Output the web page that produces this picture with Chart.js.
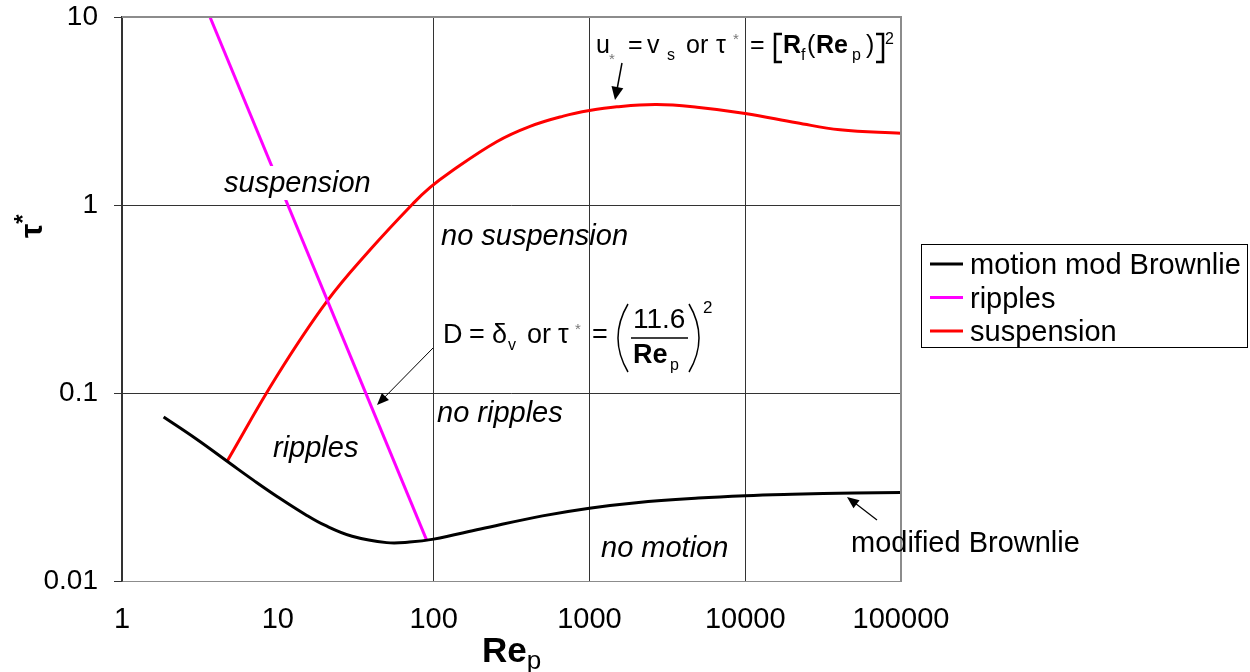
<!DOCTYPE html>
<html>
<head>
<meta charset="utf-8">
<script src="https://cdn.jsdelivr.net/npm/chart.js@4.4.0/dist/chart.umd.min.js"></script>
<style>
html, body { margin: 0; padding: 0; background: #fff; }
#wrap { width: 1250px; height: 672px; }
</style>
</head>
<body>
<div id="wrap"><canvas id="chart" width="1250" height="672"></canvas></div>
<script>
// threshold of motion (modified Brownlie)
var brownlieRe = [1.85, 3, 5, 7, 10, 15, 20, 30, 50, 70, 100, 200, 500, 1000, 2000, 5000, 10000, 20000, 50000, 100000];
var brownlieTau = [0.0745, 0.0569, 0.0419, 0.0343, 0.0280, 0.0226, 0.0198, 0.0173, 0.0160, 0.0161, 0.0167, 0.0189, 0.0222, 0.0244, 0.0261, 0.0276, 0.0284, 0.0289, 0.0294, 0.0296];
// ripples limit, D = viscous sublayer
var ripplesRe = [3.67, 90.5];
var ripplesTau = [10, 0.0164];
// onset of suspension, u* = vs
var suspensionRe = [4.7, 9.8, 20.6, 39, 74, 95, 127, 254, 416, 680, 1000, 1500, 2700, 4900, 10000, 21400, 40600, 100000];
var suspensionTau = [0.043, 0.122, 0.306, 0.576, 1.02, 1.24, 1.49, 2.17, 2.62, 2.97, 3.18, 3.33, 3.42, 3.31, 3.07, 2.74, 2.51, 2.41];

var xTicks = [1, 10, 100, 1000, 10000, 100000];
var yTicks = [0.01, 0.1, 1, 10];
var seriesNames = ["motion mod Brownlie", "ripples", "suspension"];
var seriesColors = ["#000000", "#ff00ff", "#ff0000"];

var FONT = "'Liberation Sans', Arial, sans-serif";
Chart.defaults.font.family = FONT;

function pts(xs, ys) {
    return xs.map(function (x, i) { return { x: x, y: ys[i] }; });
}

function txt(ctx, s, x, y, size, style, color, align) {
    ctx.font = (style || '') + ' ' + size + 'px ' + FONT;
    ctx.fillStyle = color || '#000';
    ctx.textAlign = align || 'left';
    ctx.textBaseline = 'alphabetic';
    ctx.fillText(s, x, y);
    return ctx.measureText(s).width;
}

function arrow(ctx, x1, y1, x2, y2, len, half, width) {
    var a = Math.atan2(y2 - y1, x2 - x1);
    ctx.strokeStyle = '#000';
    ctx.lineWidth = width;
    ctx.beginPath();
    ctx.moveTo(x1, y1);
    ctx.lineTo(x2 - Math.cos(a) * len * 0.8, y2 - Math.sin(a) * len * 0.8);
    ctx.stroke();
    ctx.fillStyle = '#000';
    ctx.beginPath();
    ctx.moveTo(x2, y2);
    ctx.lineTo(x2 - Math.cos(a) * len - Math.sin(a) * half, y2 - Math.sin(a) * len + Math.cos(a) * half);
    ctx.lineTo(x2 - Math.cos(a) * len + Math.sin(a) * half, y2 - Math.sin(a) * len - Math.cos(a) * half);
    ctx.closePath();
    ctx.fill();
}

var annotate = {
    id: 'annotate',
    afterDraw: function (chart) {
        var ctx = chart.ctx;
        var area = chart.chartArea;
        ctx.save();

        // top and right frame
        ctx.strokeStyle = '#8c8c8c';
        ctx.lineWidth = 2;
        ctx.beginPath();
        ctx.moveTo(area.left, area.top);
        ctx.lineTo(area.right, area.top);
        ctx.lineTo(area.right, area.bottom);
        ctx.stroke();

        // region labels
        ctx.fillStyle = '#fff';
        ctx.fillRect(218, 166, 159, 34);
        txt(ctx, 'suspension', 224, 192, 29, 'italic');
        txt(ctx, 'no suspension', 441, 245, 29, 'italic');
        txt(ctx, 'no ripples', 437, 422, 29, 'italic');
        txt(ctx, 'ripples', 273, 457, 29, 'italic');
        txt(ctx, 'no motion', 601, 557, 29, 'italic');
        txt(ctx, 'modified Brownlie', 851, 552, 29, '');

        // u* = vs or tau* = [Rf(Rep)]^2
        txt(ctx, 'u', 596, 53, 25);
        txt(ctx, '*', 609, 64, 15, '', '#777');
        txt(ctx, '=', 628, 53, 25);
        txt(ctx, 'v', 647, 53, 25);
        txt(ctx, 's', 667, 60, 16);
        txt(ctx, 'or', 686, 53, 25);
        txt(ctx, '\u03c4', 716, 53, 25);
        txt(ctx, '*', 733, 44, 15, '', '#777');
        txt(ctx, '=', 750, 53, 25);
        ctx.strokeStyle = '#000';
        ctx.lineWidth = 2.5;
        ctx.beginPath();
        ctx.moveTo(782, 34); ctx.lineTo(775, 34); ctx.lineTo(775, 62); ctx.lineTo(782, 62);
        ctx.moveTo(876, 34); ctx.lineTo(883, 34); ctx.lineTo(883, 62); ctx.lineTo(876, 62);
        ctx.stroke();
        txt(ctx, 'R', 783, 53, 25, 'bold');
        txt(ctx, 'f', 801, 60, 16);
        txt(ctx, '(', 807, 53, 25);
        txt(ctx, 'Re', 816, 53, 25, 'bold');
        txt(ctx, 'p', 852, 60, 16);
        txt(ctx, ')', 866, 53, 25);
        txt(ctx, '2', 885, 44, 16);
        arrow(ctx, 622, 63, 615, 100, 13, 6, 1.5);

        // D = delta_v or tau* = (11.6/Rep)^2
        txt(ctx, 'D', 443, 343, 27);
        txt(ctx, '=', 469, 343, 27);
        txt(ctx, '\u03b4', 492, 343, 27);
        txt(ctx, 'v', 508, 350, 16);
        txt(ctx, 'or', 527, 343, 27);
        txt(ctx, '\u03c4', 558, 343, 27);
        txt(ctx, '*', 575, 334, 15, '', '#777');
        txt(ctx, '=', 592, 343, 27);
        txt(ctx, '11.6', 633, 328, 28);
        txt(ctx, 'Re', 633, 363, 27, 'bold');
        txt(ctx, 'p', 670, 370, 16);
        txt(ctx, '2', 703, 313, 17);
        ctx.strokeStyle = '#000';
        ctx.lineWidth = 1.5;
        ctx.beginPath();
        ctx.moveTo(631, 338); ctx.lineTo(688, 338);
        ctx.moveTo(628, 304); ctx.quadraticCurveTo(608, 338, 628, 372);
        ctx.moveTo(689, 304); ctx.quadraticCurveTo(709, 338, 689, 372);
        ctx.stroke();
        arrow(ctx, 433, 348, 377, 405, 12, 5, 1);

        arrow(ctx, 877, 520, 847, 497, 12, 5, 1.2);

        // legend
        ctx.fillStyle = '#fff';
        ctx.fillRect(921, 244, 326, 103);
        ctx.strokeStyle = '#000';
        ctx.lineWidth = 1;
        ctx.strokeRect(921.5, 244.5, 326, 103);
        chart.data.datasets.forEach(function (ds, i) {
            var y = 264 + i * 33.5;
            ctx.strokeStyle = ds.borderColor;
            ctx.lineWidth = 3;
            ctx.beginPath();
            ctx.moveTo(930, y);
            ctx.lineTo(963, y);
            ctx.stroke();
            txt(ctx, ds.label, 970, y + 10, 29);
        });

        // axis titles
        var w = txt(ctx, 'Re', 482, 662, 35, 'bold');
        txt(ctx, 'p', 482 + w, 669, 26);
        ctx.translate(42, 238);
        ctx.rotate(-Math.PI / 2);
        var tw = txt(ctx, '\u03c4', 0, 0, 32, 'bold');
        txt(ctx, '*', tw, -11, 24, 'bold');

        ctx.restore();
    }
};

var gridColor = function (c) {
    return (c.tick && (c.tick.value === 10 || c.tick.value === 100000)) ? 'rgba(0,0,0,0)' : '#333333';
};

new Chart(document.getElementById('chart').getContext('2d'), {
    type: 'line',
    data: {
        datasets: [
            { label: seriesNames[0], data: pts(brownlieRe, brownlieTau), borderColor: seriesColors[0], borderWidth: 3, tension: 0.4 },
            { label: seriesNames[1], data: pts(ripplesRe, ripplesTau), borderColor: seriesColors[1], borderWidth: 3 },
            { label: seriesNames[2], data: pts(suspensionRe, suspensionTau), borderColor: seriesColors[2], borderWidth: 3, tension: 0.4 }
        ]
    },
    options: {
        responsive: false,
        animation: false,
        devicePixelRatio: 1,
        layout: { padding: { left: 0, right: 349, top: 17, bottom: 0 } },
        elements: { point: { radius: 0 } },
        plugins: { legend: { display: false }, tooltip: { enabled: false } },
        scales: {
            x: {
                type: 'logarithmic',
                min: 1,
                max: 100000,
                afterBuildTicks: function (s) { s.ticks = xTicks.map(function (v) { return { value: v }; }); },
                afterFit: function (s) { s.height = 91; s.paddingLeft = 0; s.paddingRight = 0; },
                ticks: { color: '#000', font: { size: 29 }, padding: 22, maxRotation: 0, autoSkip: false,
                    callback: function (v) { return String(v); } },
                grid: { color: gridColor, lineWidth: 1, drawTicks: false },
                border: { color: '#8c8c8c', width: 1 }
            },
            y: {
                type: 'logarithmic',
                min: 0.01,
                max: 10,
                afterBuildTicks: function (s) { s.ticks = yTicks.map(function (v) { return { value: v }; }); },
                afterFit: function (s) { s.width = 122; s.paddingTop = 0; s.paddingBottom = 0; },
                ticks: { color: '#000', font: { size: 28 }, padding: 16,
                    callback: function (v) { return String(v); } },
                grid: { color: gridColor, lineWidth: 1, tickLength: 8, tickColor: '#333333' },
                border: { color: '#333333', width: 1.5 }
            }
        }
    },
    plugins: [annotate]
});
</script>
</body>
</html>
